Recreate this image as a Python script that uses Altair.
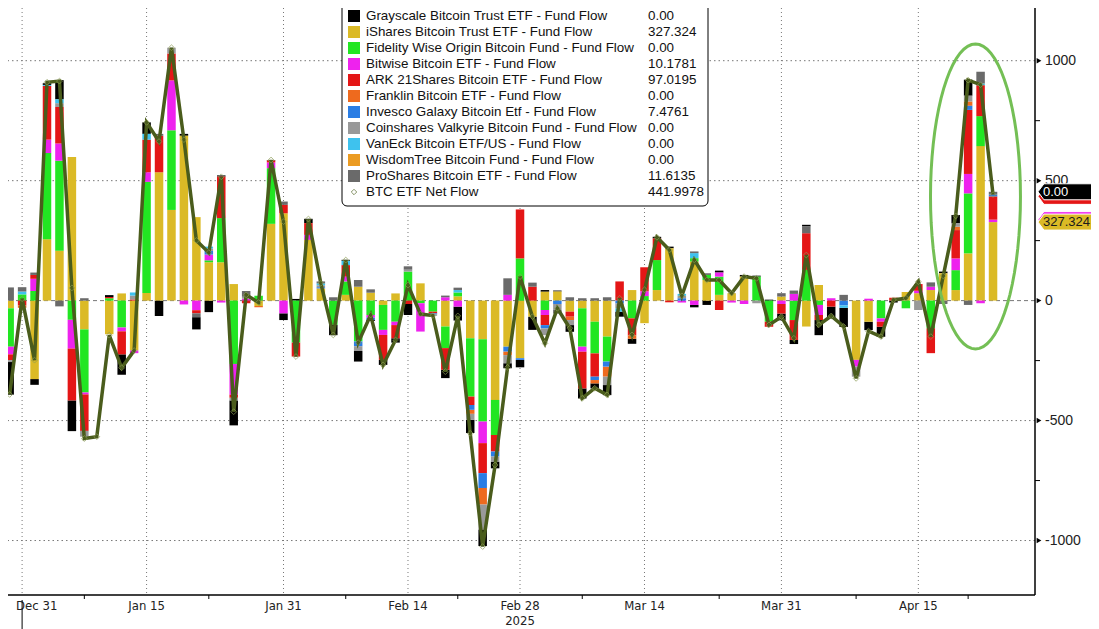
import math
import altair as alt
import pandas as pd

# ---------------- data ----------------
dates = [
    "2024-12-30", "2024-12-31", "2025-01-02", "2025-01-03", "2025-01-06", "2025-01-07", "2025-01-08", "2025-01-09", "2025-01-10", "2025-01-13",
    "2025-01-14", "2025-01-15", "2025-01-16", "2025-01-17", "2025-01-21", "2025-01-22", "2025-01-23", "2025-01-24", "2025-01-27", "2025-01-28",
    "2025-01-29", "2025-01-30", "2025-01-31", "2025-02-03", "2025-02-04", "2025-02-05", "2025-02-06", "2025-02-07", "2025-02-10", "2025-02-11",
    "2025-02-12", "2025-02-13", "2025-02-14", "2025-02-18", "2025-02-19", "2025-02-20", "2025-02-21", "2025-02-24", "2025-02-25", "2025-02-26",
    "2025-02-27", "2025-02-28", "2025-03-03", "2025-03-04", "2025-03-05", "2025-03-06", "2025-03-07", "2025-03-10", "2025-03-11", "2025-03-12",
    "2025-03-13", "2025-03-14", "2025-03-17", "2025-03-18", "2025-03-19", "2025-03-20", "2025-03-21", "2025-03-24", "2025-03-25", "2025-03-26",
    "2025-03-27", "2025-03-28", "2025-03-31", "2025-04-01", "2025-04-02", "2025-04-03", "2025-04-04", "2025-04-07", "2025-04-08", "2025-04-09",
    "2025-04-10", "2025-04-11", "2025-04-14", "2025-04-15", "2025-04-16", "2025-04-17", "2025-04-21", "2025-04-22", "2025-04-23", "2025-04-24",
]

ibit = [-32, 0, -327, 256, 208, 599, -120, 0, -140, 30,
        -208, 32, 535, 378, 687, 348, 160, 160, 69, 0,
        -22, 320, 364, 0, 253, 51, 0, 24, 58, 33,
        -18, 30, 0, 72, 0, -108, 18, -157, -161, -414,
        -192, -240, -67, 37, 38, -46, -32, -88, -150, 0,
        44, -94, 44, 218, 0, 163, 86, 24, 31, 100,
        0, 0, 17, 0, -108, 65, 0, 0, -247, -88,
        0, 0, 36, 31, 44, 114, 44, 197, 644, 327.324]

fbtc = [-160, 26, 40, 359, 375, -80, -263, 0, 10, -112,
        0, 463, 0, 332, 0, 0, 8, 184, -264, 0,
        20, 232, 0, -175, 0, 0, -101, 56, -170, -60,
        -104, -88, 121, -11, -46, -90, 16, -243, -343, -146,
        0, 176, 0, -39, 0, 0, -160, -132, -104, 0,
        -74, 19, 125, 0, 0, 14, 21, 76, 0, 0,
        100, -88, 0, -81, 128, -18, 0, 0, 0, 0,
        -74, 0, -32, 0, -115, 0, 83, 250, 125, 0]

bitb = [-32, 0, 51, 56, 72, -120, -8, 0, 0, -16,
        -11, 40, 0, 208, -16, -40, 24, -8, -128, 8,
        0, 24, -53, 0, 21, 0, 0, 20, 0, -11,
        -21, -14, 0, -118, 0, 14, -25, 0, -90, 0,
        24, 0, 0, -21, 0, 0, -21, 0, 0, 0,
        0, 20, 0, 0, -8, -18, 0, 17, -8, -14,
        0, 0, -14, 28, 0, -42, 10, 0, -28, 8,
        -14, 0, 0, 10, 14, 0, 49, 81, -11, 10.1781]

arkb = [-24, -20, 16, 224, 152, -216, -152, 0, 5, -96,
        5, 136, 152, 112, 0, -13, 0, 173, -13, -11,
        0, 8, 35, -58, 49, 0, 0, 48, 0, 0,
        -104, -55, -14, 0, -7, -90, 0, -35, -125, -69,
        0, 204, 58, -42, 0, -21, -153, -97, 0, 80,
        -71, 100, 90, -7, 0, 0, 0, -39, 0, 0,
        0, -21, -40, -83, 153, -21, -25, 0, 0, 0,
        -21, 12, 0, 28, -104, 0, 118, 267, 129, 97.0195]

ezbc = [0, -10, 0, 0, 0, 0, 0, 0, 0, 0,
        0, 0, 0, 0, 0, 0, 0, 0, 0, 0,
        -6, 0, 0, 0, 0, 0, 0, 0, 0, 0,
        0, 0, 0, 0, 0, 0, 0, -17, -69, 0,
        -15, 0, 0, 0, 0, -14, 0, -14, -42, 0,
        -14, 0, 0, 0, 0, 0, 0, 0, 0, 0,
        0, 0, 0, 0, 0, 0, 0, 0, 0, 0,
        0, 0, 0, 0, 0, 0, 14, 18, 0, 0]

btco = [0, 0, 0, 0, 0, 0, 0, 0, 0, 0,
        0, 0, 0, 0, 0, 0, 15, 0, 0, 0,
        0, 0, 0, 0, 0, 5, 0, 0, -20, -10,
        0, 0, 0, 0, -5, 0, 0, -20, -62, -21,
        -20, -7, 0, -14, -14, 0, 0, -14, -21, -12,
        0, 0, 0, 0, 10, 0, 0, 0, 0, 0,
        0, 0, 0, 0, 0, 0, 0, -20, 0, 0,
        0, 0, 0, 0, 0, 0, 0, 17, 0, 7.4761]

brrr = [-8, 0, 0, 0, 16, 0, -24, 0, 0, 0,
        16, 0, 0, 24, 0, 0, 10, 0, -11, 8,
        0, 0, 0, 0, 0, 8, 0, 0, -20, 0,
        0, 0, 8, 0, -5, 0, 0, -25, -104, -21,
        -34, 0, 0, -28, -25, -21, 0, 0, -35, -20,
        0, 0, 0, 0, 10, 0, 0, 0, 0, 0,
        -11, 0, 0, 0, 0, 0, 0, 0, -42, 0,
        0, 0, 0, -39, 0, 0, 14, 24, 0, 0]

hodl = [0, 12, 0, 4, 16, 0, 0, 0, 0, 0,
        13, 24, 0, 0, 0, 0, 8, 0, 0, 0,
        0, 0, 0, 0, 0, 8, 0, 18, 0, 0,
        0, 0, 0, 0, 0, 0, 10, 0, 0, 0,
        0, 0, 0, 0, 0, 0, 0, 0, 0, -14,
        0, 0, 0, 0, 8, 21, 0, 0, 0, 0,
        0, 0, 0, 0, 0, 0, 0, -10, 0, 0,
        0, 0, 0, 0, 0, 0, 0, 0, 7, 0]

btcw = [0, 0, 0, 0, 0, 0, 0, 0, 0, 0,
        0, 0, 0, 0, 0, 0, 0, 0, 0, 0,
        0, 0, 0, 0, 0, 0, 0, 0, 0, 0,
        0, 0, 0, 0, 0, 0, 0, 0, 0, 0,
        0, 0, 0, 0, 0, 0, 0, 0, 0, 0,
        0, 0, 0, 0, 0, 0, 0, 0, 0, 0,
        0, 0, 0, 0, 0, 0, 0, 0, 0, 0,
        0, 0, 0, 0, 0, 0, 0, 0, 0, 0]

pros = [55, 18, 10, 0, -24, 0, 10, 0, 0, 0,
        0, 0, 8, 0, 0, -16, 0, 0, 0, 24,
        0, 0, 14, 0, 0, 8, 14, 0, 28, 14,
        0, 0, 14, 0, 0, 7, 10, 0, 0, 0,
        69, 0, 17, 0, -15, 14, 10, 10, 14, 0,
        0, 0, 0, 0, 0, 7, 7, 0, 0, 0,
        0, 0, 14, 14, 28, 0, 0, 24, 0, 0,
        0, 0, 0, 0, 18, -14, 0, -18, 49, 11.6135]

gbtc = [-136, 0, -24, 7, 80, -128, 0, 0, 8, -85,
        0, 48, -64, 0, 8, -51, -48, 5, -104, 0,
        0, 2, -28, 7, 18, 0, -43, 4, -44, -4,
        -21, -18, -46, 0, 0, -35, -58, -55, -69, -28,
        -21, -31, -55, 7, 4, -28, -42, -21, -42, -21,
        -21, 0, 7, 7, 0, -10, -18, 8, 0, 7,
        4, 4, -28, -17, 7, -63, -50, -80, 0, -35,
        -42, -8, 0, 0, 0, 7, 35, 67, 0, 0]

net_flow = [-391, 8, -248, 910, 915, 53, -575, -567, -144, -280,
            -208, 743, 663, 1054, 671, 251, 200, 516, -463, 24,
            -8, 586, 329, -233, 340, 72, -143, 169, -175, -60,
            -268, -164, 65, -56, -62, -296, -64, -553, -1025, -685,
            -278, 100, -67, -178, -32, -115, -407, -365, -393, 10,
            -143, 45, 264, 211, 20, 170, 86, 86, 31, 100,
            93, -101, -67, -157, 190, -101, -64, -108, -324, -127,
            -150, 3, 10, 79, -150, 103, 353, 919, 900, 441.9978]

fund_names = [
    "Grayscale Bitcoin Trust ETF", "iShares Bitcoin Trust ETF", "Fidelity Wise Origin Bitcoin Fund",
    "Bitwise Bitcoin ETF", "ARK 21Shares Bitcoin ETF", "Franklin Bitcoin ETF", "Invesco Galaxy Bitcoin Etf",
    "Coinshares Valkyrie Bitcoin Fund", "VanEck Bitcoin ETF/US", "WisdomTree Bitcoin Fund", "ProShares Bitcoin ETF",
]
fund_colors = ["#000000", "#dbba26", "#22e622", "#ee22ee", "#e41616", "#ee6a1e", "#2a7de4",
               "#999999", "#3ec2ee", "#eb9b22", "#6a6a6a"]
stack_rank = [11, 1, 2, 3, 4, 6, 5, 7, 8, 9, 10]
fund_values = [gbtc, ibit, fbtc, bitb, arkb, ezbc, btco, brrr, hodl, btcw, pros]

tick_dates = ["2024-12-31", "2025-01-15", "2025-01-31", "2025-02-14", "2025-02-28", "2025-03-14", "2025-03-31", "2025-04-15"]
tick_labels = ["Dec 31", "Jan 15", "Jan 31", "Feb 14", "Feb 28", "Mar 14", "Mar 31", "Apr 15"]
minor_dates = ["2025-01-08", "2025-01-23", "2025-02-07", "2025-02-21", "2025-03-07", "2025-03-24", "2025-04-08", "2025-04-22"]
year_label = "2025"
year_date = "2025-02-28"
y_major = [-1000, -500, 0, 500, 1000]
y_minor = [-750, -250, 250, 750]

for arr in fund_values + [net_flow]:
    assert len(arr) == len(dates), len(arr)

# ---------------- layout constants ----------------
W, H = 1035, 595
X_DOM = [-0.374, 81.97]
Y_DOM = [-1227, 1253]
FONT = "Liberation Sans"
AXFONT = "'DejaVu Sans Condensed', 'Liberation Sans Narrow', 'Liberation Sans', sans-serif"

xs = alt.Scale(domain=X_DOM, nice=False, zero=False)
ys = alt.Scale(domain=Y_DOM, nice=False, zero=False)

# ---------------- tables ----------------
rows = []
for name, col, rank, vals in zip(fund_names, fund_colors, stack_rank, fund_values):
    for i, v in enumerate(vals):
        if v != 0:
            rows.append({"idx": i, "fund": name, "value": v, "rank": rank, "color": col})
bars_df = pd.DataFrame(rows)
line_df = pd.DataFrame({"idx": list(range(len(dates))), "net": net_flow})

tick_idx = [dates.index(d) for d in tick_dates]
minor_idx = [dates.index(d) for d in minor_dates]

def X(field):
    return alt.X(field, scale=xs, axis=None)

def Y(field):
    return alt.Y(field, scale=ys, axis=None)

# ---------------- gridlines ----------------
vgrid = alt.Chart(pd.DataFrame({"idx": tick_idx})).mark_rule(
    color="#777777", strokeWidth=1, strokeDash=[1, 3]).encode(x=X("idx:Q"))
hgrid = alt.Chart(pd.DataFrame({"v": [-1000, -500, 500, 1000]})).mark_rule(
    color="#777777", strokeWidth=1, strokeDash=[1.5, 3]).encode(y=Y("v:Q"))
zero = alt.Chart(pd.DataFrame({"v": [0]})).mark_rule(
    color="#777777", strokeWidth=1, strokeDash=[4, 3]).encode(y=Y("v:Q"))

# ---------------- data marks ----------------
bars = alt.Chart(bars_df).mark_bar(size=8.5).encode(
    x=X("idx:Q"),
    y=alt.Y("value:Q", stack="zero", scale=ys, axis=None),
    color=alt.Color("color:N", scale=None),
    order=alt.Order("rank:Q"),
)
line = alt.Chart(line_df).mark_line(color="#4a5c1c", strokeWidth=3.5).encode(x=X("idx:Q"), y=Y("net:Q"))
pts = alt.Chart(line_df).mark_point(shape="diamond", size=34, filled=False, color="#8c9c55",
                                    strokeWidth=1).encode(x=X("idx:Q"), y=Y("net:Q"))

# ---------------- axes drawn as marks ----------------
axis_df = pd.DataFrame({"a": [0]})
x_domain = alt.Chart(axis_df).mark_rule(color="#000", strokeWidth=1.5).encode(
    x=alt.value(0), x2=alt.value(W), y=alt.value(H))
y_domain = alt.Chart(axis_df).mark_rule(color="#000", strokeWidth=1.5).encode(
    x=alt.value(W), y=alt.value(0), y2=alt.value(H))
minor = alt.Chart(pd.DataFrame({"idx": minor_idx})).mark_rule(color="#000", strokeWidth=1).encode(
    x=X("idx:Q"), y=alt.value(H), y2=alt.value(H + 4))
xlab_first = alt.Chart(pd.DataFrame({"idx": tick_idx[:1], "t": tick_labels[:1]})).mark_text(
    font=AXFONT, fontSize=13, color="#222", align="left", baseline="middle", dx=-6).encode(
    x=X("idx:Q"), y=alt.value(H + 11), text="t:N")
xlab = alt.Chart(pd.DataFrame({"idx": tick_idx[1:], "t": tick_labels[1:]})).mark_text(
    font=AXFONT, fontSize=13, color="#222", align="center", baseline="middle").encode(
    x=X("idx:Q"), y=alt.value(H + 11), text="t:N")
yearline = alt.Chart(pd.DataFrame({"idx": [tick_idx[0]]})).mark_rule(color="#000", strokeWidth=1).encode(
    x=X("idx:Q"), y=alt.value(H + 5), y2=alt.value(H + 40))
yeartext = alt.Chart(pd.DataFrame({"idx": [dates.index(year_date)], "t": [year_label]})).mark_text(
    font=AXFONT, fontSize=13, color="#222", baseline="middle").encode(
    x=X("idx:Q"), y=alt.value(H + 26), text="t:N")
arrows = alt.Chart(pd.DataFrame({"v": y_major})).mark_point(
    shape="triangle-right", size=30, filled=True, color="#000", opacity=1).encode(
    x=alt.value(W + 4), y=Y("v:Q"))
yminor = alt.Chart(pd.DataFrame({"v": y_minor})).mark_rule(color="#000", strokeWidth=1).encode(
    x=alt.value(W), x2=alt.value(W + 5), y=Y("v:Q"))
ylab = alt.Chart(pd.DataFrame({"v": y_major, "t": [str(v) for v in y_major]})).mark_text(
    font=FONT, fontSize=14, color="#222", align="left", baseline="middle").encode(
    x=alt.value(W + 10), y=Y("v:Q"), text="t:N")

# ---------------- ellipse annotation ----------------
ell_pts = []
for k in range(73):
    t = 2 * math.pi * k / 72
    ell_pts.append(f"{0.295 * math.cos(t):.4f},{math.sin(t):.4f}")
ell_path = "M" + "L".join(ell_pts) + "Z"
ellipse = alt.Chart(pd.DataFrame({"cx": [77.59], "cy": [434]})).mark_point(
    shape=ell_path, size=305 * 305, filled=False, stroke="#74bf55", strokeWidth=3, opacity=1).encode(
    x=X("cx:Q"), y=Y("cy:Q"))

# ---------------- right-side value tags ----------------
def fmt(v):
    return "0.00" if v == 0 else ("%.4f" % v).rstrip("0").rstrip(".")

last = {n: vals[-1] for n, vals in zip(fund_names, fund_values)}
cum = 0
cum_top = {}
for r, n in sorted(zip(stack_rank, fund_names)):
    if last[n] > 0:
        cum += last[n]
    cum_top[n] = cum
tags_df = pd.DataFrame([
    {"cum": cum_top["Bitwise Bitcoin ETF"], "fill": "#ee22ee", "label": "", "tc": "#ffffff"},
    {"cum": cum_top["ARK 21Shares Bitcoin ETF"], "fill": "#e41616", "label": "", "tc": "#ffffff"},
    {"cum": cum_top["Grayscale Bitcoin Trust ETF"], "fill": "#000000", "label": fmt(last["Grayscale Bitcoin Trust ETF"]), "tc": "#ffffff"},
    {"cum": cum_top["iShares Bitcoin Trust ETF"], "fill": "#dbba26", "label": fmt(last["iShares Bitcoin Trust ETF"]), "tc": "#1a1a1a"},
])
tag_path = "M-1,0L-0.82,-0.2424L1,-0.2424L1,0.2424L-0.82,0.2424Z"
tags = alt.Chart(tags_df).mark_point(shape=tag_path, size=66 * 66, filled=True, opacity=1,
                                     stroke="#ffffff", strokeWidth=1).encode(
    x=alt.value(W + 36), y=Y("cum:Q"), fill=alt.Fill("fill:N", scale=None))
tag_text = alt.Chart(tags_df).mark_text(align="left", baseline="middle", font=FONT, fontSize=13).encode(
    x=alt.value(W + 8), y=Y("cum:Q"), text="label:N", color=alt.Color("tc:N", scale=None))

# ---------------- legend box ----------------
leg_rows = []
for k, (n, c) in enumerate(zip(fund_names, fund_colors)):
    leg_rows.append({"py": 16 + 16 * k, "name": n + " - Fund Flow", "color": c, "val": fmt(last[n])})
net_row = {"py": 16 + 16 * len(fund_names), "name": "BTC ETF Net Flow", "color": "#ffffff", "val": fmt(net_flow[-1])}
leg_df = pd.DataFrame(leg_rows)
leg_all = pd.DataFrame(leg_rows + [net_row])

box = alt.Chart(axis_df).mark_rect(fill="white", stroke="#000", strokeWidth=1, cornerRadius=5).encode(
    x=alt.value(342), x2=alt.value(708), y=alt.value(-3), y2=alt.value(206))
leg_sq = alt.Chart(leg_df).mark_square(size=144, opacity=1).encode(
    x=alt.value(354), y=alt.Y("py:Q", scale=None, axis=None), color=alt.Color("color:N", scale=None))
leg_dia = alt.Chart(pd.DataFrame([net_row])).mark_point(shape="diamond", size=30, filled=False,
                                                       color="#55682a", strokeWidth=1).encode(
    x=alt.value(354), y=alt.Y("py:Q", scale=None, axis=None))
leg_txt = alt.Chart(leg_all).mark_text(align="left", baseline="middle", font=FONT, fontSize=13.4, color="#111").encode(
    x=alt.value(366), y=alt.Y("py:Q", scale=None, axis=None), text="name:N")
leg_val = alt.Chart(leg_all).mark_text(align="left", baseline="middle", font=FONT, fontSize=13.4, color="#111").encode(
    x=alt.value(648), y=alt.Y("py:Q", scale=None, axis=None), text="val:N")

chart = alt.layer(
    vgrid, hgrid, zero, bars, line, pts,
    x_domain, y_domain, minor, xlab_first, xlab, yearline, yeartext, arrows, yminor, ylab,
    ellipse, tags, tag_text, box, leg_sq, leg_dia, leg_txt, leg_val,
).properties(
    width=W, height=H,
    padding={"left": -8, "top": -8, "right": 56, "bottom": 34},
    autosize=alt.AutoSizeParams(type="none"),
    background="white",
).configure_view(stroke=None)

chart.save("out.html", embed_options={"renderer": "svg", "actions": False})
